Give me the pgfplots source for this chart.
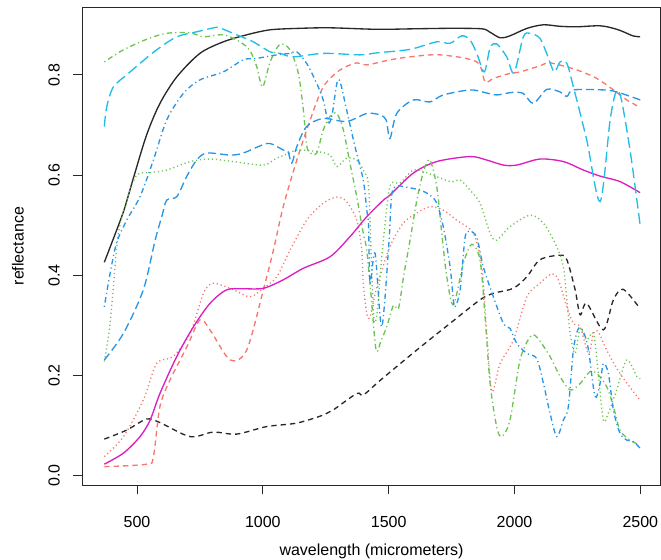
\documentclass[border=0pt]{standalone}
\usepackage{fontspec}
\setmainfont{Liberation Sans}
\usepackage{pgfplots}
\pgfplotsset{compat=1.18}
\definecolor{salmon}{RGB}{248,118,109}
\definecolor{lgreen}{RGB}{110,195,85}
\definecolor{rcyan}{RGB}{30,190,230}
\definecolor{rblue}{RGB}{40,150,230}
\definecolor{rmag}{RGB}{220,30,190}
\definecolor{rblack}{RGB}{40,40,40}
\tikzset{
  rdashed/.style={dash pattern=on 4pt off 3pt},
  rdotted/.style={dash pattern=on 0.9pt off 2.1pt},
  rdotdash/.style={dash pattern=on 0.9pt off 2.4pt on 4pt off 2.4pt},
  rlongdash/.style={dash pattern=on 8pt off 3.5pt},
  rmeddash/.style={dash pattern=on 6pt off 3pt},
}
\begin{document}
\begin{tikzpicture}
\useasboundingbox (0,0) rectangle (495.75pt,420pt);
\begin{axis}[
  at={(62pt,56.25pt)}, anchor=south west,
  scale only axis, width=433.35pt, height=358.3pt,
  xmin=284, xmax=2580, ymin=-0.0186, ymax=0.935,
  axis line style={line width=0.7pt, rblack},
  xtick={500,1000,1500,2000,2500},
  ytick={0,0.2,0.4,0.6,0.8},
  xtick pos=bottom, ytick pos=left,
  tick align=outside, major tick length=7pt,
  tick style={line width=0.7pt, rblack},
  /pgf/number format/assume math mode=true,
  /pgf/number format/1000 sep={},
  yticklabel style={/pgf/number format/fixed, /pgf/number format/fixed zerofill, /pgf/number format/precision=1},
  tick label style={font=\fontsize{12}{14}\selectfont},
  label style={font=\fontsize{12}{14}\selectfont},
  xticklabel style={anchor=center, yshift=-21pt},
  yticklabel style={anchor=center, xshift=-14.5pt, rotate=90},
  xlabel={wavelength (micrometers)},
  ylabel={reflectance},
  xlabel style={at={(axis description cs:0.5,-0.1382)}, anchor=center},
  ylabel style={at={(axis description cs:-0.1119,0.5)}, anchor=center},
  every axis plot/.append style={line width=1pt, smooth, tension=0.5},
]
% black solid
\addplot[rblack] coordinates {(370,0.426)(393,0.456)(446,0.527)(485,0.593)(538,0.680)(591,0.743)(658,0.796)(750,0.843)(843,0.866)(936,0.880)(1029,0.890)(1150,0.893)(1267,0.894)(1453,0.891)(1600,0.892)(1750,0.893)(1870,0.892)(1900,0.886)(1943,0.874)(1982,0.878)(2050,0.893)(2115,0.900)(2180,0.897)(2247,0.896)(2340,0.898)(2400,0.892)(2433,0.886)(2470,0.878)(2499,0.876)};
% black dashed
\addplot[rblack, rdashed] coordinates {(370,0.073)(459,0.091)(538,0.113)(591,0.106)(711,0.078)(803,0.087)(896,0.083)(1015,0.098)(1135,0.105)(1240,0.121)(1279,0.131)(1373,0.164)(1399,0.161)(1468,0.191)(1612,0.251)(1744,0.304)(1863,0.351)(1916,0.364)(1995,0.374)(2049,0.397)(2101,0.431)(2181,0.440)(2208,0.431)(2241,0.371)(2261,0.321)(2287,0.344)(2353,0.291)(2393,0.351)(2432,0.372)(2498,0.334)};
% salmon dashed
\addplot[salmon, rdashed] coordinates {(370,0.018)(539,0.023)(565,0.038)(591,0.138)(631,0.191)(698,0.257)(750,0.311)(790,0.291)(870,0.231)(936,0.251)(1002,0.371)(1042,0.450)(1081,0.537)(1135,0.630)(1188,0.710)(1240,0.776)(1307,0.810)(1373,0.824)(1413,0.820)(1505,0.830)(1585,0.836)(1704,0.840)(1850,0.826)(1883,0.786)(1916,0.793)(1982,0.803)(2022,0.806)(2101,0.818)(2141,0.824)(2247,0.810)(2327,0.793)(2393,0.770)(2446,0.750)(2500,0.735)};
% salmon dotted
\addplot[salmon, rdotted] coordinates {(370,0.038)(446,0.078)(525,0.151)(578,0.224)(644,0.238)(711,0.284)(764,0.364)(803,0.384)(883,0.371)(949,0.357)(1002,0.374)(1055,0.397)(1108,0.450)(1174,0.510)(1240,0.544)(1294,0.556)(1333,0.547)(1373,0.510)(1393,0.450)(1399,0.384)(1413,0.324)(1426,0.317)(1453,0.377)(1505,0.457)(1558,0.504)(1611,0.524)(1664,0.537)(1717,0.530)(1770,0.510)(1836,0.484)(1870,0.417)(1890,0.284)(1910,0.168)(1943,0.224)(1996,0.271)(2049,0.357)(2101,0.384)(2148,0.403)(2174,0.391)(2208,0.337)(2234,0.304)(2261,0.297)(2294,0.244)(2314,0.284)(2333,0.287)(2366,0.251)(2419,0.204)(2498,0.151)};
% magenta solid
\addplot[rmag] coordinates {(370,0.023)(446,0.045)(512,0.078)(552,0.111)(591,0.164)(658,0.238)(724,0.297)(790,0.344)(856,0.371)(922,0.373)(1002,0.374)(1081,0.391)(1161,0.414)(1267,0.437)(1346,0.477)(1413,0.517)(1479,0.550)(1505,0.560)(1598,0.604)(1691,0.627)(1823,0.637)(1890,0.630)(1956,0.620)(2009,0.620)(2101,0.632)(2194,0.627)(2274,0.610)(2340,0.598)(2419,0.587)(2499,0.565)};
% green dotted
\addplot[lgreen, rdotted] coordinates {(370,0.228)(393,0.304)(419,0.454)(432,0.500)(459,0.550)(499,0.600)(552,0.605)(618,0.610)(711,0.627)(790,0.632)(883,0.627)(1002,0.620)(1055,0.634)(1108,0.644)(1135,0.650)(1214,0.647)(1267,0.640)(1294,0.617)(1333,0.634)(1373,0.630)(1399,0.610)(1420,0.577)(1432,0.420)(1442,0.310)(1455,0.330)(1475,0.450)(1505,0.577)(1545,0.584)(1598,0.610)(1650,0.605)(1744,0.587)(1784,0.590)(1823,0.570)(1863,0.544)(1903,0.484)(1929,0.470)(1982,0.497)(2062,0.520)(2115,0.504)(2168,0.457)(2194,0.417)(2208,0.351)(2221,0.284)(2241,0.244)(2261,0.294)(2287,0.271)(2314,0.284)(2333,0.204)(2353,0.111)(2373,0.125)(2406,0.171)(2446,0.231)(2486,0.198)(2500,0.194)};
% green dot-dash
\addplot[lgreen, rdotdash] coordinates {(370,0.826)(446,0.850)(538,0.871)(618,0.883)(711,0.884)(763,0.876)(843,0.880)(909,0.866)(949,0.848)(976,0.816)(999,0.776)(1029,0.826)(1068,0.861)(1108,0.850)(1141,0.803)(1161,0.730)(1174,0.660)(1188,0.644)(1214,0.644)(1240,0.690)(1267,0.717)(1294,0.723)(1320,0.690)(1346,0.624)(1373,0.557)(1399,0.484)(1413,0.450)(1430,0.360)(1450,0.251)(1470,0.270)(1492,0.297)(1519,0.340)(1539,0.334)(1560,0.400)(1585,0.470)(1612,0.550)(1640,0.610)(1664,0.630)(1691,0.577)(1711,0.484)(1730,0.400)(1757,0.341)(1797,0.424)(1830,0.462)(1863,0.430)(1883,0.317)(1903,0.184)(1929,0.098)(1949,0.078)(1982,0.111)(2022,0.231)(2062,0.277)(2088,0.277)(2141,0.238)(2181,0.198)(2221,0.171)(2261,0.184)(2300,0.208)(2327,0.204)(2366,0.178)(2393,0.138)(2419,0.091)(2459,0.071)(2498,0.061)};
% cyan long dash
\addplot[rcyan, rlongdash] coordinates {(370,0.697)(380,0.737)(406,0.776)(459,0.800)(512,0.823)(578,0.850)(658,0.876)(737,0.886)(817,0.895)(843,0.891)(896,0.880)(962,0.866)(1029,0.846)(1068,0.843)(1121,0.836)(1240,0.843)(1386,0.840)(1453,0.844)(1585,0.851)(1691,0.866)(1744,0.863)(1790,0.878)(1823,0.870)(1850,0.843)(1880,0.806)(1903,0.854)(1929,0.862)(1969,0.836)(1998,0.804)(2035,0.876)(2062,0.883)(2101,0.873)(2130,0.840)(2158,0.806)(2181,0.826)(2208,0.823)(2234,0.776)(2287,0.670)(2340,0.547)(2380,0.710)(2405,0.768)(2425,0.750)(2462,0.640)(2500,0.497)};
% blue dashed
\addplot[rblue, rmeddash] coordinates {(370,0.231)(446,0.284)(525,0.371)(572,0.470)(600,0.520)(618,0.550)(658,0.557)(697,0.597)(737,0.630)(777,0.644)(870,0.640)(922,0.644)(1015,0.663)(1055,0.657)(1081,0.650)(1100,0.647)(1115,0.624)(1135,0.657)(1174,0.697)(1240,0.713)(1333,0.707)(1413,0.723)(1466,0.720)(1490,0.710)(1505,0.673)(1532,0.723)(1598,0.750)(1664,0.746)(1717,0.760)(1823,0.770)(1880,0.765)(1929,0.760)(1990,0.765)(2035,0.763)(2075,0.743)(2128,0.771)(2181,0.766)(2208,0.757)(2234,0.770)(2353,0.770)(2406,0.766)(2500,0.750)};
% blue dot-dash
\addplot[rblue, rdotdash] coordinates {(370,0.337)(393,0.404)(419,0.465)(459,0.510)(512,0.557)(565,0.630)(618,0.710)(684,0.763)(750,0.790)(843,0.806)(922,0.830)(976,0.833)(1055,0.840)(1108,0.843)(1135,0.846)(1174,0.823)(1214,0.783)(1240,0.750)(1260,0.705)(1275,0.720)(1294,0.783)(1307,0.786)(1333,0.730)(1366,0.657)(1399,0.590)(1413,0.530)(1420,0.500)(1426,0.384)(1446,0.444)(1472,0.297)(1499,0.450)(1512,0.560)(1530,0.578)(1558,0.577)(1625,0.570)(1664,0.560)(1691,0.544)(1717,0.497)(1744,0.417)(1757,0.351)(1764,0.337)(1784,0.371)(1804,0.477)(1823,0.487)(1850,0.476)(1876,0.417)(1916,0.357)(1956,0.304)(1982,0.294)(2009,0.264)(2049,0.244)(2088,0.234)(2115,0.184)(2141,0.125)(2168,0.078)(2194,0.111)(2214,0.138)(2234,0.251)(2254,0.294)(2274,0.287)(2294,0.251)(2320,0.158)(2340,0.184)(2353,0.224)(2373,0.204)(2393,0.131)(2419,0.085)(2446,0.071)(2472,0.068)(2499,0.055)};
\end{axis}
\end{tikzpicture}
\end{document}
